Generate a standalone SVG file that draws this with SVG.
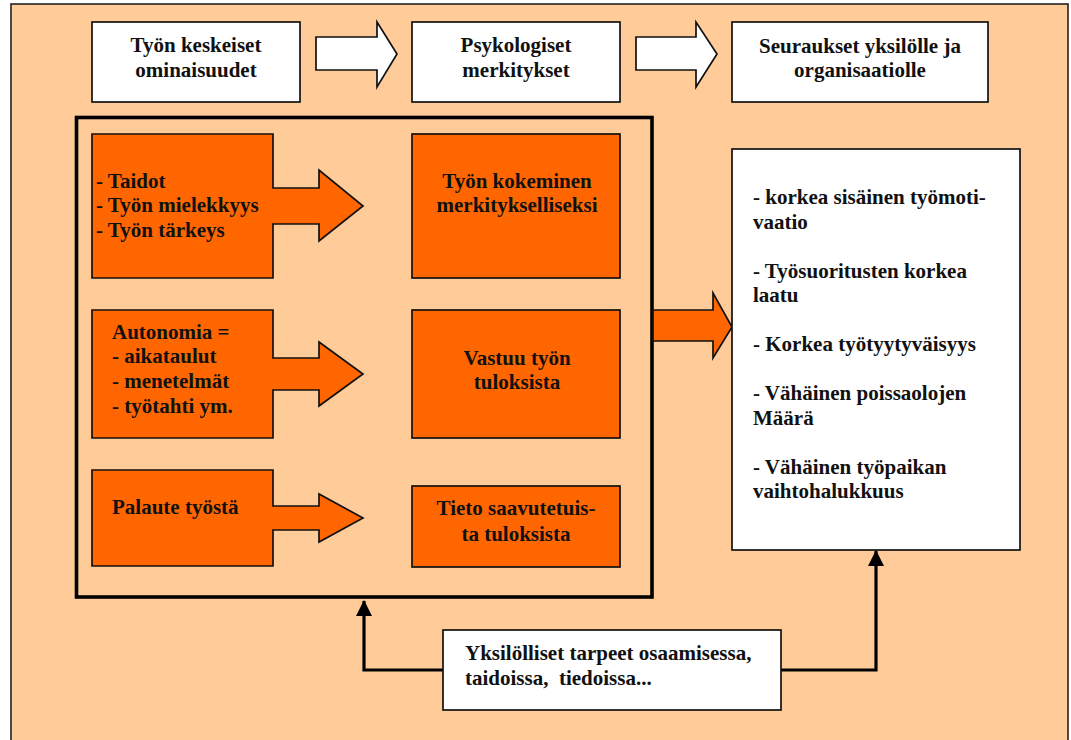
<svg xmlns="http://www.w3.org/2000/svg" width="1071" height="740" viewBox="0 0 1071 740">
<style>
text{font-family:"Liberation Serif","Times New Roman",serif;font-weight:bold;font-size:21px;fill:#111}
.c{text-anchor:middle}
.wb{fill:#fff;stroke:#111;stroke-width:1.7}
.ob{fill:#FF6600;stroke:#111;stroke-width:1.7}
.conn{fill:none;stroke:#000;stroke-width:3.2}
</style>
<defs>
<marker id="ah" markerUnits="userSpaceOnUse" markerWidth="16" markerHeight="16" viewBox="0 0 16 16" refX="15" refY="8" orient="auto">
<path d="M0,0 L16,8 L0,16 Z" fill="#000"/>
</marker>
</defs>
<rect x="11" y="4" width="1057" height="760" fill="#FFCC99" stroke="#222" stroke-width="1.6"/>

<g id="top1"><rect class="wb" x="92" y="22" width="208" height="80"/><text class="c" x="196" y="52">Työn keskeiset</text><text class="c" x="196" y="77">ominaisuudet</text></g>
<g id="toparrow1"><polygon class="wb" points="316,37 377,37 377,22 397,54 377,87 377,70 316,70"/></g>
<g id="top2"><rect class="wb" x="412" y="22" width="208" height="80"/><text class="c" x="516" y="52">Psykologiset</text><text class="c" x="516" y="77">merkitykset</text></g>
<g id="toparrow2"><polygon class="wb" points="636,37 696,37 696,22 717,54 696,87 696,70 636,70"/></g>
<g id="top3"><rect class="wb" x="732" y="22" width="256" height="80"/><text class="c" x="860" y="53">Seuraukset yksilölle ja</text><text class="c" x="860" y="77">organisaatiolle</text></g>

<g id="frame"><rect x="76.5" y="117.5" width="575.5" height="479.5" fill="none" stroke="#000" stroke-width="3.6"/></g>

<g id="left1"><polygon class="ob" points="92,134 273,134 273,188 319,188 319,170 363,206 319,241 319,224 273,224 273,278 92,278"/>
<text x="96" y="188">- Taidot</text><text x="96" y="212">- Työn mielekkyys</text><text x="96" y="237">- Työn tärkeys</text></g>
<g id="left2"><polygon class="ob" points="92,310 273,310 273,358 319,358 319,342 363,374 319,406 319,390 273,390 273,438 92,438"/>
<text x="112" y="339">Autonomia =</text><text x="112" y="363">- aikataulut</text><text x="112" y="388">- menetelmät</text><text x="112" y="413">- työtahti ym.</text></g>
<g id="left3"><polygon class="ob" points="92,470 273,470 273,506 319,506 319,494 363,518 319,542 319,530 273,530 273,566 92,566"/>
<text x="112" y="514">Palaute työstä</text></g>

<g id="right1"><rect class="ob" x="412" y="134" width="208" height="144"/><text class="c" x="517" y="188">Työn kokeminen</text><text class="c" x="517" y="212">merkitykselliseksi</text></g>
<g id="right2"><rect class="ob" x="412" y="310" width="208" height="128"/><text class="c" x="517" y="365">Vastuu työn</text><text class="c" x="517" y="389">tuloksista</text></g>
<g id="right3"><rect class="ob" x="412" y="486" width="208" height="81"/><text class="c" x="516" y="515">Tieto saavutetuis-</text><text class="c" x="516" y="541">ta tuloksista</text></g>

<g id="bigarrow"><polygon class="ob" points="653,310 713,310 713,293 732,327 713,358 713,341 653,341"/></g>

<g id="results"><rect class="wb" x="732" y="149" width="288" height="401"/>
<text x="753" y="204">- korkea sisäinen työmoti-</text><text x="753" y="228.5">vaatio</text>
<text x="753" y="277.5">- Työsuoritusten korkea</text><text x="753" y="302">laatu</text>
<text x="753" y="351">- Korkea työtyytyväisyys</text>
<text x="753" y="400">- Vähäinen poissaolojen</text><text x="753" y="424.5">Määrä</text>
<text x="753" y="473.5">- Vähäinen työpaikan</text><text x="753" y="498">vaihtohalukkuus</text></g>

<g id="connectors">
<polyline class="conn" points="443,670 364,670 364,601" marker-end="url(#ah)"/>
<polyline class="conn" points="781,670 876,670 876,551" marker-end="url(#ah)"/>
</g>

<g id="needs"><rect class="wb" x="443" y="630" width="338" height="80"/>
<text x="465" y="660">Yksilölliset tarpeet osaamisessa,</text><text x="465" y="685" xml:space="preserve">taidoissa,  tiedoissa...</text></g>
</svg>
